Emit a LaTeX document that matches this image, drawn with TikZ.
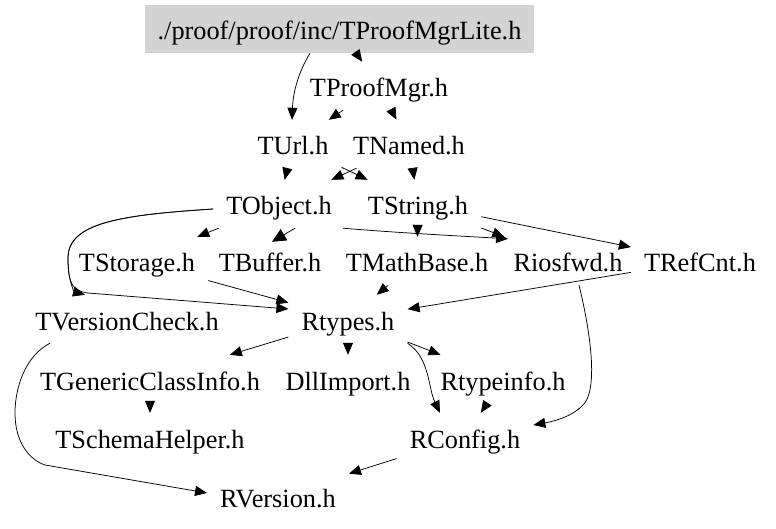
\documentclass[tikz,border=0pt]{standalone}
\usepackage{fontspec}
\setmainfont{Liberation Serif}
\usetikzlibrary{arrows.meta}
\definecolor{hdrgray}{RGB}{211,211,211}
\tikzset{
  file/.style={rectangle, inner xsep=13pt, inner ysep=0pt, minimum height=48pt,
    text height=22pt, text depth=0pt, font=\fontsize{26.3}{30}\selectfont},
  mainfile/.style={file, fill=hdrgray},
  dep/.style={draw=black, line width=0.75pt, -{Triangle[length=12pt,width=10pt]}},
  bolddep/.style={draw=black, line width=0.75pt, -{Triangle[length=14pt,width=13pt]}}
}
\begin{document}
\begin{tikzpicture}[x=1pt,y=1pt]
\useasboundingbox (0,0) rectangle (776,528);
\node[mainfile] (lite) at (339.5,499) {./proof/proof/inc/TProofMgrLite.h};
\node[file] (mgr) at (379,442) {TProofMgr.h};
\node[file] (url) at (293,384) {TUrl.h};
\node[file] (named) at (409,384) {TNamed.h};
\node[file] (obj) at (279,324) {TObject.h};
\node[file] (str) at (418,324) {TString.h};
\node[file] (stor) at (137,267) {TStorage.h};
\node[file] (buf) at (270,267) {TBuffer.h};
\node[file] (math) at (417,267) {TMathBase.h};
\node[file] (rios) at (568,267) {Riosfwd.h};
\node[file] (ref) at (700,267) {TRefCnt.h};
\node[file] (vc) at (127,209) {TVersionCheck.h};
\node[file] (rt) at (348,209) {Rtypes.h};
\node[file] (gci) at (150,149) {TGenericClassInfo.h};
\node[file] (dll) at (348,149) {DllImport.h};
\node[file] (rti) at (503,149) {Rtypeinfo.h};
\node[file] (sh) at (150,91) {TSchemaHelper.h};
\node[file] (rc) at (465,91) {RConfig.h};
\node[file] (rv) at (278,32) {RVersion.h};

\draw[dep] (lite) -- (mgr);
\draw[dep] ([xshift=-29.5pt]lite.south) .. controls (298,455) and (293,435) .. ([xshift=-1pt]url.north);
\draw[dep] (mgr) -- (url);
\draw[dep] (mgr) -- (named);
\draw[dep] (url) -- (obj);
\draw[dep] (url) -- (str);
\draw[dep] (named) -- (obj);
\draw[dep] (named) -- (str);
\draw[dep] (obj) -- (stor);
\draw[bolddep] ([xshift=16pt]obj.south) -- ([xshift=2pt,yshift=-5pt]buf.north);
\draw[dep] ([xshift=64pt]obj.south) .. controls (400,295) and (460,292) .. ([xshift=-60pt,yshift=-2pt]rios.north);
\draw[dep] ([yshift=-5pt]obj.west) .. controls (120,313) and (68,305) .. (68,270)
  .. controls (68,245) and (75,236) .. ([xshift=-42pt]vc.north);
\draw[dep] ([yshift=-5pt]obj.west) .. controls (120,313) and (68,305) .. (68,270)
  .. controls (68,245) and (72,237) .. (88,235) -- ([yshift=10pt]rt.west);
\draw[dep] (str) -- (math);
\draw[dep] (str) -- (rios);
\draw[dep] (str) -- (ref);
\draw[dep] (stor) -- (rt);
\draw[dep] (math) -- (rt);
\draw[dep] (ref) -- (rt);
\draw[dep] ([xshift=11pt]rios.south) .. controls (592,190) and (598,135) .. (582,122)
  .. controls (570,110) and (550,106) .. ([yshift=12pt]rc.east);
\draw[dep] ([xshift=-77pt]vc.south) .. controls (25,172) and (15,140) .. (15,115)
  .. controls (15,85) and (30,68) .. (45,63) -- ([yshift=3pt]rv.west);
\draw[dep] (rt) -- (gci);
\draw[dep] (rt) -- (dll);
\draw[dep] (rt) -- (rti);
\draw[dep] (rt.south east) .. controls (430,170) and (428,140) .. ([xshift=-25pt]rc.north);
\draw[dep] (rti) -- (rc);
\draw[dep] (gci) -- (sh);
\draw[dep] (rc) -- (rv);
\end{tikzpicture}
\end{document}
